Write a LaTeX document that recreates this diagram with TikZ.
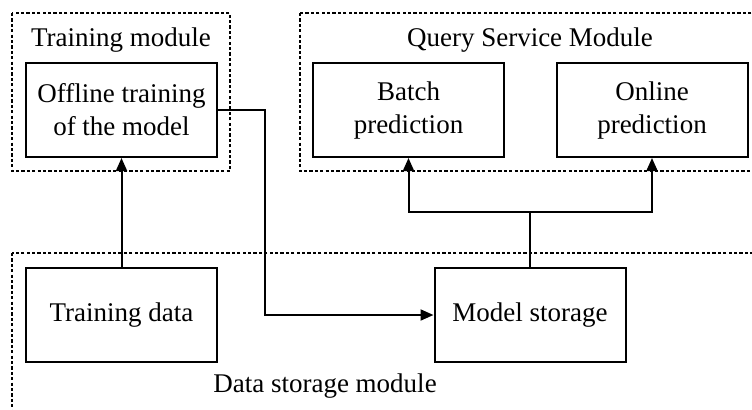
\documentclass[tikz,border=0pt]{standalone}
\usepackage{fontspec}
\setmainfont{Liberation Serif}
\usepackage{tikz}
\usetikzlibrary{arrows.meta}

\tikzset{
  block/.style={draw, line width=1pt, minimum width=95.5pt, minimum height=47pt, align=center, inner sep=0pt},
  frame/.style={line width=1pt, dash pattern=on 1.6pt off 1.1pt},
  link/.style={line width=1pt},
  arrow/.style={link, -{Triangle[length=6.5pt, width=5.5pt]}}
}

\begin{document}
\begin{tikzpicture}[x=0.5pt, y=-0.5pt, font=\fontsize{13.5}{16.5}\selectfont]

\clip (0,0) rectangle (752,409);

% module frames
\draw[frame] (12,13) rectangle (230,171);
\draw[frame] (300,13) rectangle (770,171);
\draw[frame] (12,253) rectangle (770,430);

\node (trainlabel) at (121,40) {Training module};
\node (querylabel) at (530,40) {Query Service Module};
\node (datalabel) at (325,386) {Data storage module};

% blocks
\node[block] (offline) at (121.5,110) {Offline training\\of the model};
\node[block] (batch) at (408.5,110) {Batch\\prediction};
\node[block] (online) at (652,110) {Online\\prediction};
\node[block] (traindata) at (121.5,315) {Training data};
\node[block] (storage) at (530,315) {Model storage};

% connectors
\coordinate (bend) at (265,110);
\coordinate (split) at (530,212);

\draw[arrow] (traindata) -- (offline);
\draw[arrow] (offline.east) -- (bend) |- (storage.west);
\draw[link] (storage.north) -- (split);
\draw[arrow] (split) -| (batch.south);
\draw[arrow] (split) -| (online.south);

\end{tikzpicture}
\end{document}
